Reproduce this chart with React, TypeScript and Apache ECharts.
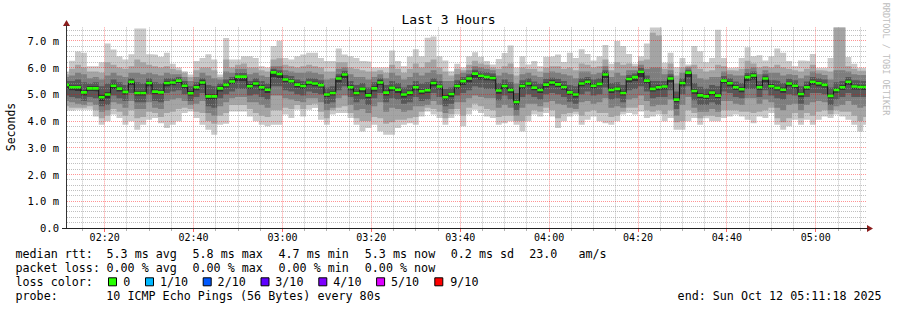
import React, { useEffect, useRef } from 'react';
import * as echarts from 'echarts';

const FONT = '"DejaVu Sans Mono", monospace';

// ---- time frame (UTC) ----
const START = Date.UTC(2025, 9, 12, 2, 11, 18);
const END = Date.UTC(2025, 9, 12, 5, 11, 18);
const FIRST_BOUNDARY = Date.UTC(2025, 9, 12, 2, 12, 0);
const STEP_MS = 80 * 1000;

// ---- axes ----
const X_TICK_LABELS = ['02:20', '02:40', '03:00', '03:20', '03:40', '04:00', '04:20', '04:40', '05:00'];
const Y_TICKS = [0, 1, 2, 3, 4, 5, 6, 7];
const Y_MAX = 7.5;

// ---- data (ms), one value per 80 s step ----
const MEDIAN = [
  5.35, 5.26, 5.26, 5.07, 5.22, 5.22, 4.89, 4.99, 5.32, 5.21,
  5.09, 5.47, 5.05, 5.05, 5.42, 5.10, 5.07, 5.42, 5.44, 5.51,
  5.32, 5.04, 5.26, 5.44, 4.92, 4.92, 5.22, 5.35, 5.48, 5.66,
  5.66, 5.30, 5.40, 5.26, 5.17, 5.82, 5.76, 5.55, 5.49, 5.36,
  5.31, 5.44, 5.40, 5.34, 4.99, 5.05, 5.59, 5.74, 5.26, 5.05,
  5.20, 4.96, 5.22, 5.44, 5.06, 5.24, 5.17, 4.99, 5.06, 5.26,
  5.11, 5.15, 5.42, 5.29, 4.89, 5.01, 5.31, 5.49, 5.59, 5.77,
  5.69, 5.65, 5.61, 5.14, 5.31, 5.16, 4.71, 5.31, 5.40, 5.25,
  5.16, 5.36, 5.44, 5.37, 5.27, 5.07, 4.99, 5.40, 5.47, 5.32,
  5.39, 5.74, 5.16, 5.20, 5.05, 5.57, 5.64, 5.84, 5.51, 5.20,
  5.26, 5.29, 5.59, 4.80, 5.42, 5.81, 5.12, 4.96, 4.92, 5.06,
  4.95, 5.51, 5.41, 5.26, 5.19, 5.64, 5.70, 5.26, 5.59, 5.30,
  5.24, 5.17, 5.40, 5.32, 5.01, 5.26, 5.47, 5.41, 5.35, 4.94,
  5.16, 5.26, 5.47, 5.29, 5.27, 5.27,
];

const PING_MAX = [
  5.85, 6.25, 6.6, 6.55, 6.05, 6.05, 6.2, 6.9, 6.67, 6.42,
  6.3, 6.5, 7.46, 7.46, 6.5, 6.48, 6.4, 6.55, 6.14, 6.0,
  5.86, 5.74, 6.24, 6.36, 6.5, 6.3, 5.74, 7.1, 6.3, 6.3,
  6.42, 6.42, 6.36, 6.05, 6.0, 6.8, 7.0, 6.36, 6.3, 6.42,
  6.49, 6.55, 6.55, 6.36, 6.24, 6.24, 6.71, 6.49, 6.42, 6.36,
  6.24, 6.22, 6.0, 6.0, 6.0, 6.64, 6.24, 6.05, 6.41, 6.68,
  6.42, 7.11, 7.16, 6.42, 6.26, 5.86, 6.14, 6.0, 6.42, 6.57,
  6.4, 6.24, 6.11, 6.32, 6.54, 6.82, 6.0, 6.42, 6.11, 6.24,
  6.05, 6.4, 6.42, 6.49, 6.21, 6.55, 6.36, 6.68, 6.51, 6.26,
  6.42, 6.84, 6.14, 6.99, 6.8, 6.51, 6.14, 6.42, 6.9, 7.6,
  7.6, 6.18, 6.55, 6.01, 6.36, 6.11, 6.8, 6.61, 6.2, 6.36,
  7.41, 6.36, 5.99, 6.01, 6.36, 6.76, 6.42, 6.46, 6.26, 6.42,
  6.71, 6.55, 6.24, 6.05, 6.26, 6.24, 6.51, 5.99, 5.99, 6.36,
  7.6, 7.6, 6.39, 6.14, 5.99, 5.99,
];

const PING_9 = [
  5.75, 5.95, 6.1, 6.0, 5.85, 5.85, 5.8, 6.2, 6.1, 6.0,
  5.95, 6.05, 6.3, 6.2, 6.1, 6.05, 6.0, 6.05, 5.95, 5.9,
  5.8, 5.65, 5.9, 6.0, 6.0, 5.9, 5.65, 6.3, 6.0, 6.1,
  6.15, 6.0, 6.0, 5.9, 5.85, 6.3, 6.35, 6.1, 6.05, 6.0,
  6.05, 6.1, 6.05, 6.0, 5.85, 5.85, 6.2, 6.2, 6.0, 5.95,
  5.9, 5.85, 5.85, 5.9, 5.8, 6.1, 5.95, 5.8, 5.95, 6.15,
  6.0, 6.2, 6.3, 6.0, 5.85, 5.7, 5.95, 5.9, 6.1, 6.25,
  6.15, 6.1, 6.0, 5.95, 6.05, 6.15, 5.7, 6.0, 5.95, 5.95,
  5.85, 6.0, 6.05, 6.05, 5.95, 6.0, 5.9, 6.15, 6.1, 6.0,
  6.05, 6.3, 5.9, 6.2, 6.1, 6.15, 6.05, 6.25, 6.3, 7.3,
  7.2, 5.95, 6.15, 5.7, 6.0, 6.05, 6.1, 5.95, 5.85, 5.9,
  6.1, 6.05, 5.9, 5.88, 5.95, 6.25, 6.15, 6.0, 6.05, 6.0,
  6.1, 6.0, 5.95, 5.9, 5.85, 5.95, 6.1, 5.9, 5.88, 5.85,
  7.55, 7.55, 6.05, 5.95, 5.88, 5.88,
];

const PING_8 = [
  5.65, 5.7, 5.8, 5.75, 5.6, 5.65, 5.55, 5.7, 5.8, 5.7,
  5.65, 5.8, 5.8, 5.75, 5.8, 5.75, 5.7, 5.8, 5.75, 5.75,
  5.65, 5.5, 5.65, 5.8, 5.7, 5.6, 5.55, 5.85, 5.8, 5.95,
  5.95, 5.75, 5.8, 5.7, 5.65, 6.05, 6.05, 5.9, 5.85, 5.8,
  5.8, 5.85, 5.8, 5.75, 5.55, 5.6, 5.95, 6.0, 5.75, 5.65,
  5.65, 5.55, 5.65, 5.75, 5.6, 5.8, 5.7, 5.55, 5.65, 5.8,
  5.7, 5.8, 5.9, 5.75, 5.5, 5.5, 5.75, 5.8, 5.9, 6.05,
  6.0, 5.95, 5.9, 5.7, 5.8, 5.75, 5.4, 5.75, 5.8, 5.7,
  5.65, 5.8, 5.85, 5.8, 5.75, 5.7, 5.6, 5.85, 5.85, 5.75,
  5.8, 6.05, 5.65, 5.8, 5.7, 5.9, 5.9, 6.1, 5.95, 6.0,
  6.0, 5.75, 5.9, 5.4, 5.8, 6.0, 5.75, 5.6, 5.55, 5.65,
  5.65, 5.85, 5.75, 5.7, 5.7, 5.95, 6.0, 5.75, 5.9, 5.8,
  5.8, 5.7, 5.75, 5.72, 5.6, 5.7, 5.85, 5.78, 5.72, 5.55,
  5.9, 5.9, 5.85, 5.75, 5.72, 5.72,
];

const PING_7 = [
  5.5, 5.5, 5.55, 5.45, 5.4, 5.45, 5.3, 5.4, 5.55, 5.45,
  5.35, 5.6, 5.45, 5.4, 5.6, 5.45, 5.4, 5.6, 5.6, 5.65,
  5.5, 5.3, 5.45, 5.6, 5.35, 5.3, 5.4, 5.55, 5.65, 5.8,
  5.8, 5.5, 5.6, 5.5, 5.4, 5.95, 5.9, 5.72, 5.68, 5.55,
  5.5, 5.6, 5.58, 5.52, 5.25, 5.3, 5.75, 5.88, 5.5, 5.35,
  5.42, 5.25, 5.45, 5.6, 5.35, 5.5, 5.42, 5.25, 5.35, 5.5,
  5.4, 5.45, 5.6, 5.5, 5.2, 5.25, 5.52, 5.65, 5.75, 5.92,
  5.85, 5.82, 5.78, 5.42, 5.55, 5.45, 5.05, 5.52, 5.6, 5.48,
  5.4, 5.58, 5.62, 5.58, 5.5, 5.35, 5.3, 5.6, 5.65, 5.55,
  5.6, 5.9, 5.42, 5.45, 5.35, 5.72, 5.78, 5.98, 5.7, 5.5,
  5.5, 5.5, 5.75, 5.1, 5.6, 5.92, 5.42, 5.28, 5.22, 5.35,
  5.3, 5.68, 5.6, 5.48, 5.42, 5.8, 5.85, 5.5, 5.75, 5.52,
  5.5, 5.42, 5.58, 5.52, 5.3, 5.48, 5.65, 5.6, 5.55, 5.25,
  5.45, 5.5, 5.65, 5.52, 5.5, 5.5,
];

const PING_6 = [
  5.42, 5.33, 5.33, 5.15, 5.3, 5.3, 4.98, 5.08, 5.4, 5.28,
  5.16, 5.54, 5.12, 5.12, 5.5, 5.18, 5.14, 5.5, 5.52, 5.58,
  5.4, 5.12, 5.34, 5.52, 5.0, 5.0, 5.3, 5.42, 5.56, 5.72,
  5.72, 5.38, 5.48, 5.34, 5.25, 5.88, 5.82, 5.62, 5.56, 5.44,
  5.38, 5.5, 5.47, 5.42, 5.06, 5.12, 5.66, 5.8, 5.34, 5.12,
  5.27, 5.04, 5.3, 5.52, 5.14, 5.32, 5.25, 5.06, 5.14, 5.34,
  5.18, 5.22, 5.5, 5.36, 4.96, 5.08, 5.38, 5.56, 5.66, 5.84,
  5.76, 5.72, 5.68, 5.22, 5.38, 5.24, 4.78, 5.38, 5.47, 5.32,
  5.24, 5.44, 5.52, 5.45, 5.35, 5.14, 5.06, 5.48, 5.55, 5.4,
  5.46, 5.82, 5.24, 5.28, 5.12, 5.64, 5.7, 5.9, 5.58, 5.28,
  5.34, 5.36, 5.66, 4.88, 5.5, 5.87, 5.2, 5.04, 5.0, 5.14,
  5.02, 5.58, 5.48, 5.34, 5.26, 5.72, 5.78, 5.34, 5.66, 5.38,
  5.32, 5.25, 5.47, 5.4, 5.08, 5.34, 5.54, 5.48, 5.42, 5.02,
  5.24, 5.34, 5.54, 5.36, 5.34, 5.34,
];

const PING_5 = [
  5.2, 5.15, 5.12, 4.95, 5.12, 5.1, 4.75, 4.85, 5.2, 5.1,
  4.98, 5.35, 4.95, 4.95, 5.3, 5.0, 4.98, 5.3, 5.34, 5.42,
  5.22, 4.95, 5.15, 5.35, 4.8, 4.8, 5.1, 5.25, 5.38, 5.5,
  5.5, 5.2, 5.3, 5.15, 5.05, 5.65, 5.6, 5.45, 5.4, 5.25,
  5.2, 5.35, 5.3, 5.25, 4.9, 4.95, 5.45, 5.6, 5.15, 4.95,
  5.08, 4.85, 5.1, 5.35, 4.95, 5.12, 5.05, 4.88, 4.95, 5.15,
  5.0, 5.05, 5.3, 5.18, 4.78, 4.9, 5.2, 5.35, 5.45, 5.62,
  5.55, 5.52, 5.5, 5.02, 5.2, 5.05, 4.6, 5.2, 5.3, 5.15,
  5.05, 5.25, 5.33, 5.27, 5.17, 4.97, 4.88, 5.3, 5.37, 5.22,
  5.3, 5.6, 5.05, 5.1, 4.95, 5.45, 5.5, 5.65, 5.4, 5.1,
  5.15, 5.18, 5.45, 4.7, 5.3, 5.65, 5.02, 4.86, 4.82, 4.96,
  4.86, 5.4, 5.3, 5.16, 5.08, 5.5, 5.55, 5.16, 5.45, 5.2,
  5.14, 5.06, 5.3, 5.22, 4.9, 5.16, 5.36, 5.3, 5.25, 4.85,
  5.06, 5.16, 5.36, 5.18, 5.16, 5.16,
];

const PING_4 = [
  4.95, 4.9, 4.85, 4.75, 4.9, 4.85, 4.55, 4.6, 4.95, 4.85,
  4.75, 5.05, 4.7, 4.7, 5.0, 4.75, 4.7, 5.05, 5.1, 5.15,
  5.0, 4.75, 4.9, 5.05, 4.55, 4.5, 4.85, 5.0, 5.1, 5.2,
  5.2, 4.95, 5.0, 4.9, 4.8, 5.3, 5.3, 5.15, 5.1, 5.0,
  4.95, 5.1, 5.05, 5.0, 4.65, 4.7, 5.15, 5.3, 4.9, 4.7,
  4.8, 4.6, 4.85, 5.05, 4.7, 4.85, 4.8, 4.65, 4.7, 4.9,
  4.75, 4.8, 5.05, 4.9, 4.55, 4.65, 4.95, 5.05, 5.15, 5.3,
  5.25, 5.2, 5.2, 4.78, 4.95, 4.8, 4.4, 4.9, 5.0, 4.9,
  4.8, 5.0, 5.05, 5.0, 4.9, 4.72, 4.65, 5.0, 5.1, 4.95,
  5.0, 5.25, 4.8, 4.85, 4.7, 5.15, 5.2, 5.3, 5.1, 4.85,
  4.9, 4.9, 5.15, 4.45, 5.0, 5.3, 4.78, 4.6, 4.6, 4.7,
  4.6, 5.1, 5.05, 4.9, 4.85, 5.2, 5.2, 4.9, 5.15, 4.95,
  4.85, 4.8, 5.0, 4.95, 4.65, 4.9, 5.05, 5.05, 5.0, 4.6,
  4.8, 4.9, 5.05, 4.9, 4.9, 4.9,
];

const PING_3 = [
  4.75, 4.7, 4.65, 4.6, 4.7, 4.6, 4.35, 4.4, 4.7, 4.65,
  4.5, 4.75, 4.45, 4.45, 4.7, 4.5, 4.45, 4.75, 4.8, 4.85,
  4.75, 4.6, 4.65, 4.75, 4.3, 4.2, 4.55, 4.7, 4.85, 4.9,
  4.9, 4.7, 4.7, 4.6, 4.5, 4.95, 4.95, 4.85, 4.8, 4.75,
  4.7, 4.85, 4.85, 4.7, 4.4, 4.5, 4.85, 4.95, 4.6, 4.4,
  4.45, 4.3, 4.55, 4.7, 4.35, 4.5, 4.45, 4.35, 4.4, 4.55,
  4.55, 4.6, 4.75, 4.6, 4.3, 4.45, 4.7, 4.7, 4.85, 4.95,
  4.9, 4.85, 4.85, 4.5, 4.6, 4.5, 4.2, 4.5, 4.65, 4.65,
  4.55, 4.7, 4.75, 4.65, 4.6, 4.5, 4.45, 4.7, 4.75, 4.65,
  4.7, 4.85, 4.5, 4.55, 4.5, 4.8, 4.85, 4.95, 4.75, 4.55,
  4.6, 4.6, 4.8, 4.2, 4.6, 4.9, 4.5, 4.35, 4.35, 4.45,
  4.35, 4.75, 4.75, 4.65, 4.6, 4.85, 4.85, 4.65, 4.8, 4.7,
  4.5, 4.4, 4.6, 4.65, 4.4, 4.6, 4.7, 4.75, 4.7, 4.4,
  4.55, 4.6, 4.75, 4.6, 4.5, 4.55,
];

const PING_2 = [
  4.55, 4.5, 4.5, 4.5, 4.55, 4.4, 4.1, 4.2, 4.45, 4.35,
  4.2, 4.4, 4.1, 4.15, 4.35, 4.3, 4.15, 4.3, 4.35, 4.45,
  4.5, 4.45, 4.35, 4.3, 4.0, 3.9, 4.2, 4.3, 4.6, 4.6,
  4.6, 4.45, 4.3, 4.2, 4.15, 4.4, 4.4, 4.5, 4.45, 4.6,
  4.45, 4.6, 4.65, 4.35, 4.1, 4.4, 4.5, 4.55, 4.3, 4.1,
  4.0, 4.0, 4.15, 4.1, 3.9, 3.95, 4.05, 4.05, 4.1, 4.15,
  4.35, 4.5, 4.45, 4.35, 4.1, 4.25, 4.45, 4.2, 4.5, 4.65,
  4.55, 4.45, 4.4, 4.15, 4.2, 4.2, 4.0, 4.0, 4.2, 4.4,
  4.35, 4.5, 4.4, 4.1, 4.25, 4.3, 4.35, 4.2, 4.35, 4.4,
  4.3, 4.3, 4.15, 4.2, 4.35, 4.5, 4.5, 4.6, 4.4, 4.35,
  4.4, 4.25, 4.4, 3.95, 4.0, 4.4, 4.3, 4.1, 4.2, 4.2,
  4.15, 4.4, 4.4, 4.4, 4.35, 4.35, 4.3, 4.35, 4.4, 4.5,
  4.1, 3.95, 4.1, 4.3, 4.1, 4.3, 4.2, 4.35, 4.4, 4.25,
  4.4, 4.35, 4.35, 4.2, 4.0, 4.15,
];

const PING_MIN = [
  4.39, 4.39, 4.42, 4.42, 4.42, 4.17, 3.86, 3.99, 4.24, 4.11,
  3.86, 3.99, 3.67, 3.86, 4.05, 4.11, 3.92, 3.74, 3.86, 3.99,
  4.3, 4.36, 4.11, 3.86, 3.67, 3.49, 3.86, 3.9, 4.36, 4.36,
  4.36, 4.17, 3.99, 3.86, 3.8, 3.86, 3.86, 4.24, 4.11, 4.42,
  4.17, 4.42, 4.49, 4.05, 3.86, 4.24, 4.3, 4.3, 4.11, 3.86,
  3.61, 3.74, 3.86, 3.61, 3.49, 3.49, 3.74, 3.86, 3.92, 3.86,
  4.17, 4.36, 4.24, 4.11, 3.86, 4.11, 4.24, 3.8, 4.24, 4.42,
  4.3, 4.17, 4.11, 3.86, 3.92, 3.99, 3.86, 3.61, 3.99, 4.24,
  4.17, 4.3, 4.17, 3.74, 3.99, 4.17, 4.24, 3.86, 4.05, 4.17,
  3.99, 3.92, 3.86, 3.99, 4.24, 4.3, 4.24, 4.36, 4.11, 4.17,
  4.24, 3.99, 4.11, 3.67, 3.67, 3.99, 4.11, 3.86, 4.1, 3.99,
  3.99, 4.11, 4.17, 4.24, 4.17, 4.05, 3.92, 4.17, 4.11, 4.3,
  3.86, 3.67, 3.8, 4.05, 3.86, 4.05, 3.86, 4.05, 4.17, 4.11,
  4.24, 4.17, 4.05, 3.86, 3.61, 3.86,
];

// ---- legend texts ----
const TITLE = 'Last 3 Hours';
const Y_NAME = 'Seconds';
const WATERMARK = 'RRDTOOL / TOBI OETIKER';
const RTT_ROW = ['median rtt:', '5.3 ms avg', '5.8 ms max', '4.7 ms min', '5.3 ms now', '0.2 ms sd', '23.0', 'am/s'];
const LOSS_ROW = ['packet loss:', '0.00 % avg', '0.00 % max', '0.00 % min', '0.00 % now'];
const LOSS_COLOR_LABEL = 'loss color:';
const LOSS_LEVELS = ['0', '1/10', '2/10', '3/10', '4/10', '5/10', '9/10'];
const LOSS_COLORS = ['#26ff00', '#00b8ff', '#0059ff', '#5e00ff', '#7e00ff', '#dd00ff', '#ff0000'];
const PROBE_ROW = ['probe:', '10 ICMP Echo Pings (56 Bytes) every 80s'];
const END_TEXT = 'end: Sun Oct 12 05:11:18 2025';

// ---- layout (pixels) ----
const GRID = { left: 66, top: 27.4, width: 800, height: 200.6 };
const AXIS_Y = GRID.top + GRID.height; // 228
const ROW_Y = [254.3, 268.3, 282.3, 296.2];
const RTT_X = [15.5, 106.5, 192.5, 278.5, 364.8, 450.8, 529.2, 578.5];
const LOSS_X = [15.5, 106.5, 192.5, 278.5, 364.8];
const SWATCH_X = [108.5, 145.5, 203.2, 261, 318.8, 376.6, 434.8];
const SWATCH_LABEL_X = [123.3, 160, 217.6, 275.3, 333.3, 391, 450.3];
const PROBE_X = [15.5, 106.3];
const END_X = 677.6;

// ---- derived ----
const toTime = (label: string) => {
  const [h, m] = label.split(':').map(Number);
  return Date.UTC(2025, 9, 12, h, m, 0);
};
const MAJOR_X = X_TICK_LABELS.map(toTime);
const MINOR_X: number[] = [];
for (let t = toTime('02:15'); t < END; t += 5 * 60 * 1000) {
  if (!MAJOR_X.includes(t)) MINOR_X.push(t);
}
const MAJOR_Y = Y_TICKS.filter((v) => v > 0);
const MINOR_Y: number[] = [];
for (let k = 1; k < Y_MAX * 5; k++) if (k % 5 !== 0) MINOR_Y.push(k / 5);

const V_GRID = [...MINOR_X.map((t) => [t, 0]), ...MAJOR_X.map((t) => [t, 1])];
const H_GRID = [...MINOR_Y.map((v) => [v, 0]), ...MAJOR_Y.map((v) => [v, 1])];

const STEP_START = MEDIAN.map((_, i) => (i === 0 ? START : FIRST_BOUNDARY + (i - 1) * STEP_MS));
const STEP_END = STEP_START.map((_, i) => (i + 1 < STEP_START.length ? STEP_START[i + 1] : END));
const stepData = (vals: number[]) => [
  ...vals.map((v, i) => [STEP_START[i], v]),
  [END, vals[vals.length - 1]],
];

const LAYERS: { data: number[]; color: string }[] = [
  { data: PING_MAX, color: '#cacaca' },
  { data: PING_9, color: '#a4a4a4' },
  { data: PING_8, color: '#7e7e7e' },
  { data: PING_7, color: '#585858' },
  { data: PING_6, color: '#323232' },
  { data: PING_5, color: '#585858' },
  { data: PING_4, color: '#7e7e7e' },
  { data: PING_3, color: '#a4a4a4' },
  { data: PING_2, color: '#cacaca' },
  { data: PING_MIN, color: '#ffffff' },
];

const MINOR_GRID = 'rgba(150,150,150,0.6)';
const MAJOR_GRID = 'rgba(255,0,0,0.42)';
const MINOR_TICK = '#b4b4b4';
const MAJOR_TICK = 'rgba(255,0,0,0.6)';
const crisp = (p: number) => Math.floor(p) + 0.5;

function buildOption() {
  const text = (t: string, x: number, y: number, extra: any = {}) => ({
    type: 'text',
    x,
    y,
    silent: true,
    z: 100,
    style: {
      text: t,
      fontFamily: FONT,
      fontSize: 11.7,
      fill: '#000',
      align: 'left',
      verticalAlign: 'middle',
      ...extra,
    },
  });

  const ax = GRID.left + 0.5;
  const ay = AXIS_Y + 0.5;
  const graphics: any[] = [
    text(TITLE, 448.5, 19, { fontSize: 13, align: 'center' }),
    { ...text(Y_NAME, 10.5, 127, { fontSize: 11.5, align: 'center' }), rotation: Math.PI / 2 },
    { ...text(WATERMARK, 886, 59, { fontSize: 8.5, align: 'center', fill: '#bdbdbd' }), rotation: -Math.PI / 2 },
    {
      type: 'polygon',
      silent: true,
      z: 100,
      shape: { points: [[ax - 3.5, 26], [ax + 3.5, 26], [ax, 20]] },
      style: { fill: '#8b1d1d' },
    },
    {
      type: 'line',
      silent: true,
      z: 100,
      shape: { x1: ax, y1: 25, x2: ax, y2: GRID.top + 1 },
      style: { stroke: '#333', lineWidth: 1 },
    },
    {
      type: 'polygon',
      silent: true,
      z: 100,
      shape: {
        points: [
          [GRID.left + GRID.width + 1, ay - 3.5],
          [GRID.left + GRID.width + 1, ay + 3.5],
          [GRID.left + GRID.width + 7, ay],
        ],
      },
      style: { fill: '#8b1d1d' },
    },
    {
      type: 'line',
      silent: true,
      z: 100,
      shape: { x1: GRID.left + GRID.width - 1, y1: ay, x2: GRID.left + GRID.width + 2, y2: ay },
      style: { stroke: '#222', lineWidth: 1 },
    },
    {
      type: 'line',
      silent: true,
      z: 100,
      shape: { x1: GRID.left - 4, y1: ay, x2: GRID.left + 1, y2: ay },
      style: { stroke: '#222', lineWidth: 1 },
    },
  ];

  RTT_ROW.forEach((t, i) => graphics.push(text(t, RTT_X[i], ROW_Y[0])));
  LOSS_ROW.forEach((t, i) => graphics.push(text(t, LOSS_X[i], ROW_Y[1])));
  graphics.push(text(LOSS_COLOR_LABEL, 15.5, ROW_Y[2]));
  LOSS_LEVELS.forEach((t, i) => {
    graphics.push({
      type: 'rect',
      silent: true,
      z: 100,
      shape: { x: SWATCH_X[i], y: ROW_Y[2] - 4.5, width: 8, height: 8 },
      style: { fill: LOSS_COLORS[i], stroke: '#000', lineWidth: 1 },
    });
    graphics.push(text(t, SWATCH_LABEL_X[i], ROW_Y[2]));
  });
  PROBE_ROW.forEach((t, i) => graphics.push(text(t, PROBE_X[i], ROW_Y[3])));
  graphics.push(text(END_TEXT, END_X, ROW_Y[3]));

  const smokeSeries = LAYERS.map((layer, idx) => ({
    type: 'line',
    step: 'end',
    data: stepData(layer.data),
    showSymbol: false,
    symbol: 'none',
    silent: true,
    z: 2 + idx * 0.01,
    lineStyle: { width: 0, opacity: 0 },
    areaStyle: { color: layer.color, opacity: 1 },
    emphasis: { disabled: true },
    clip: true,
  }));

  const verticalGrid = {
    type: 'custom',
    silent: true,
    z: 20,
    clip: false,
    data: V_GRID,
    encode: { x: 0 },
    renderItem: (_p: any, api: any) => {
      const t = api.value(0);
      const major = api.value(1) === 1;
      const top = api.coord([t, Y_MAX]);
      const bot = api.coord([t, 0]);
      const x = crisp(top[0]);
      return {
        type: 'group',
        children: [
          {
            type: 'line',
            shape: { x1: x, y1: top[1], x2: x, y2: bot[1] },
            style: { stroke: major ? MAJOR_GRID : MINOR_GRID, lineWidth: 1, lineDash: [1, 1] },
          },
          {
            type: 'line',
            shape: { x1: x, y1: bot[1] + 1, x2: x, y2: bot[1] + (major ? 4 : 3) },
            style: { stroke: major ? MAJOR_TICK : MINOR_TICK, lineWidth: 1 },
          },
        ],
      };
    },
  };

  const horizontalGrid = {
    type: 'custom',
    silent: true,
    z: 20,
    clip: false,
    data: H_GRID,
    encode: { y: 0 },
    renderItem: (_p: any, api: any) => {
      const v = api.value(0);
      const major = api.value(1) === 1;
      const left = api.coord([START, v]);
      const right = api.coord([END, v]);
      const y = crisp(left[1]);
      return {
        type: 'line',
        shape: { x1: left[0] + 1, y1: y, x2: right[0], y2: y },
        style: { stroke: major ? MAJOR_GRID : MINOR_GRID, lineWidth: 1, lineDash: [1, 1] },
      };
    },
  };

  return {
    animation: false,
    backgroundColor: '#ffffff',
    grid: { left: GRID.left, top: GRID.top, width: GRID.width, height: GRID.height, containLabel: false },
    xAxis: {
      type: 'value',
      min: START,
      max: END,
      z: 50,
      axisLine: { show: true, onZero: false, lineStyle: { color: '#222', width: 1 } },
      axisTick: { show: false, customValues: MAJOR_X },
      axisLabel: {
        customValues: MAJOR_X,
        formatter: (v: number) => {
          const i = MAJOR_X.indexOf(v);
          return i >= 0 ? X_TICK_LABELS[i] : '';
        },
        fontFamily: FONT,
        fontSize: 10,
        color: '#000',
        margin: 4,
      },
      splitLine: { show: false },
    },
    yAxis: {
      type: 'value',
      min: 0,
      max: Y_MAX,
      z: 50,
      axisLine: { show: true, onZero: false, lineStyle: { color: '#333', width: 1 } },
      axisTick: { show: false, customValues: Y_TICKS },
      axisLabel: {
        customValues: Y_TICKS,
        formatter: (v: number) => (v === 0 ? '0.0' : `${v.toFixed(1)} m`),
        fontFamily: FONT,
        fontSize: 10.5,
        color: '#000',
        margin: 7,
      },
      splitLine: { show: false },
    },
    series: [
      ...smokeSeries,
      verticalGrid,
      horizontalGrid,
      {
        type: 'line',
        step: 'end',
        data: stepData(MEDIAN),
        showSymbol: false,
        symbol: 'none',
        silent: true,
        z: 30,
        lineStyle: { color: '#141414', width: 1 },
        emphasis: { disabled: true },
      },
      {
        type: 'custom',
        silent: true,
        z: 31,
        clip: true,
        data: MEDIAN.map((m, i) => [STEP_START[i], STEP_END[i], m]),
        encode: { x: [0, 1], y: 2 },
        renderItem: (_params: any, api: any) => {
          const p0 = api.coord([api.value(0), api.value(2)]);
          const p1 = api.coord([api.value(1), api.value(2)]);
          return {
            type: 'rect',
            shape: { x: p0[0], y: p0[1] - 1.3, width: p1[0] - p0[0], height: 2.6 },
            style: { fill: LOSS_COLORS[0] },
          };
        },
      },
    ],
    graphic: graphics,
  };
}

export default function App() {
  const ref = useRef<HTMLDivElement>(null);
  useEffect(() => {
    if (!ref.current) return;
    const chart = echarts.init(ref.current, null, { renderer: 'svg' });
    chart.setOption(buildOption() as any);
    return () => chart.dispose();
  }, []);
  return (
    <div
      ref={ref}
      style={{ position: 'absolute', left: 0, top: 0, width: 897, height: 310, background: '#fff' }}
    />
  );
}
